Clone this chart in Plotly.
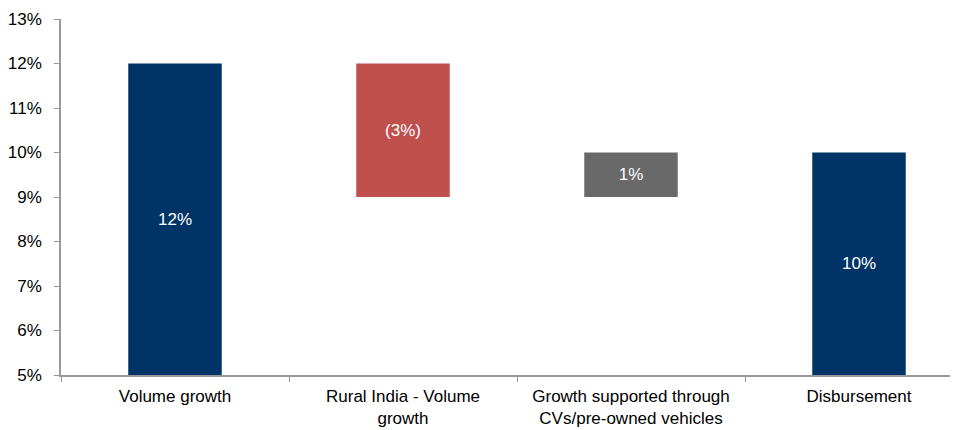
import plotly.graph_objects as go

categories = ["Volume growth", "Rural India - Volume<br>growth",
              "Growth supported through<br>CVs/pre-owned vehicles", "Disbursement"]
values = [12, -3, 1, 10]
measures = ["absolute", "relative", "relative", "absolute"]
labels = ["12%", "(3%)", "1%", "10%"]
colors = ["#003366", "#C0504D", "#696969", "#003366"]
y_ticks = [5, 6, 7, 8, 9, 10, 11, 12, 13]
y_floor = 5

bases, heights = [], []
running = 0
for v, m in zip(values, measures):
    if m == "absolute":
        bases.append(y_floor)
        heights.append(v - y_floor)
        running = v
    else:
        start = running
        running = running + v
        bases.append(min(start, running))
        heights.append(abs(v))

fig = go.Figure(go.Bar(
    x=categories, y=heights, base=bases,
    marker=dict(color=colors, line=dict(width=0)),
    width=0.41,
    text=labels, textposition="inside", insidetextanchor="middle",
    textfont=dict(color="white", size=17, family="Liberation Sans, Arial"),
    textangle=0, cliponaxis=False, hoverinfo="skip",
))

fig.update_layout(
    width=950, height=422,
    margin=dict(l=53, r=0, t=11, b=55),
    paper_bgcolor="white", plot_bgcolor="white",
    font=dict(family="Liberation Sans, Arial", size=17, color="#000000"),
    showlegend=False,
    uniformtext=dict(minsize=17, mode="show"),
)
fig.update_xaxes(
    range=[-0.5, -0.5 + 897 / 228], showline=True, linecolor="#999999", linewidth=1.5,
    ticks="outside", tickson="boundaries", ticklen=5, tickcolor="#999999",
    showgrid=False, zeroline=False, tickfont=dict(size=17), ticklabelstandoff=5,
    automargin=False,
)
fig.update_yaxes(
    range=[5, 13], tickvals=y_ticks, ticktext=[f"{t}%" for t in y_ticks],
    showline=True, linecolor="#999999", linewidth=1.5,
    ticks="outside", ticklen=5, tickcolor="#999999",
    showgrid=False, zeroline=False, tickfont=dict(size=17),
    ticklabelstandoff=9, automargin=False,
)

fig.write_html("out.html")
